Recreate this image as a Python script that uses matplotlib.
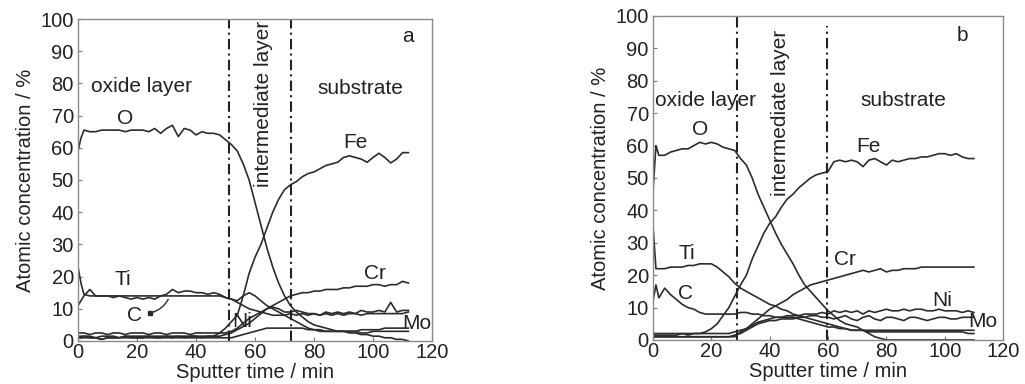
import matplotlib.pyplot as plt
import numpy as np

plt.rcParams['font.family'] = ['Liberation Sans', 'DejaVu Sans']

# Sputterzeit-Raster (min)
t_a = [0, 1] + list(range(2, 114, 2))
t_b = [0, 1] + list(range(2, 112, 2))

# ---------------- Probe a ----------------
O_a = [59, 63,
       65.5, 65, 65, 65.5, 65.5, 65.5, 65.5, 65, 65.5, 65.5,
       65.5, 65, 66, 64.5, 66, 67, 63.5, 66, 65.5, 64,
       65, 64.5, 64.5, 64, 62.5, 61, 59, 55, 50, 43,
       36, 29, 23, 18, 14, 11, 9, 7.5, 6, 5,
       4.5, 4, 3.5, 3, 3, 2.5, 2.5, 2, 2, 1.5,
       1.5, 1, 1, 0.5, 0.5, 0]
Fe_a = [1, 1,
        1.5, 1, 1, 0.5, 1, 1, 1, 1.5, 1, 1,
        1, 1.5, 1, 1, 1.5, 1, 1.5, 1, 1.5, 1.5,
        1, 1.5, 1.5, 2.5, 4, 6, 8, 14, 21, 26,
        30, 35, 40, 44, 47, 48.5, 49.5, 51, 52, 52.5,
        53.5, 54.5, 55, 55.5, 57, 57.5, 57, 56.5, 55.5, 57,
        58.3, 57, 55.3, 56.5, 58.5, 58.5]
Cr_a = [1.5, 1.5,
        1.5, 1.5, 1, 1.5, 1.5, 1.5, 1, 1.5, 1.5, 1.5,
        1.5, 1.5, 1.5, 1.5, 1.5, 1.5, 1.5, 1.5, 1.5, 1.5,
        1.5, 1.5, 1.5, 1.5, 2, 2.5, 3.5, 4.5, 5.5, 7,
        8.5, 10, 11, 12, 13, 14, 14.5, 15, 15, 15.5,
        15.5, 16, 16, 16, 16.5, 16.5, 17, 17, 17, 17.5,
        17.5, 17, 17.5, 17.5, 18.5, 18]
Ti_a = [23, 18,
        14.5, 14, 14, 14, 14, 14, 14, 14, 14, 14,
        14, 14, 14, 14, 14, 14, 14, 14, 14, 14,
        14, 14, 14, 14, 13.5, 13, 12, 11, 10, 9.5,
        9, 8.5, 8, 8, 8, 8.5, 8, 8.5, 8, 8.5,
        8, 8.5, 8, 8.5, 8, 8.5, 8.5, 8, 8.5, 8.5,
        8.5, 8.5, 8.5, 8.5, 8.5, 9]
C_a = [11, 12.5,
       14, 16, 14, 14, 14, 13.5, 14, 13.5, 13, 13.5,
       13, 13.5, 13, 14, 14.5, 16, 15, 15.5, 15.5, 15,
       15, 14.5, 15, 14.5, 13.5, 13, 12.5, 14, 15, 14,
       12.5, 11, 10, 9, 8, 7, 6, 5, 4, 3.5,
       3, 3, 3, 3, 3, 3, 3, 2.5, 2.5, 3,
       3, 3, 3, 3, 3, 3]
Ni_a = [2.5, 2.5,
        2.5, 2, 2.5, 2.5, 2, 2.5, 2.5, 2, 2.5, 2.5,
        2.5, 2, 2.5, 2.5, 2, 2.5, 2.5, 2.5, 2, 2.5,
        2.5, 2.5, 2.5, 2.5, 2.5, 3, 4, 5.5, 7, 8,
        9, 10, 10.5, 10, 9, 9, 9.5, 9, 8.5, 8.5,
        8, 9, 8.5, 9, 8.5, 9, 8.5, 9.5, 9, 9,
        9.5, 9, 12, 9, 9.5, 9.5]
Mo_a = [1, 1,
        1, 1, 1, 0.5, 1, 1, 1, 1, 1, 1,
        1, 1, 1, 1, 1, 1, 1, 1, 1, 1,
        1, 1, 1, 1, 1, 1, 1.5, 2, 2.5, 3,
        3.5, 4, 4, 4, 4, 4, 4, 4, 3.5, 3.5,
        3.5, 3, 3, 3, 3, 3, 3, 3.5, 3.5, 3.5,
        3.5, 4, 4, 4, 4, 4]

# ---------------- Probe b ----------------
O_b = [46, 60,
       57, 57, 58, 58.5, 59, 59, 60, 61, 60.5, 61,
       60.5, 59.5, 59, 58.5, 56, 54, 50, 45, 41, 37,
       33, 29.5, 26.5, 23.5, 20, 17, 15, 13, 11, 9,
       7.5, 6, 5, 4.5, 4, 3, 2, 1, 0.5, 0,
       0, 0, 0, 0, 0, 0, 0, 0, 0, 0,
       0, 0, 0, 0, 0]
Fe_b = [1.5, 1.5,
        1.5, 1.5, 1.5, 1.5, 2, 1.5, 2, 2, 2.5, 3.5,
        5, 7.5, 10, 13.5, 17, 20, 25, 29, 33, 36,
        38, 41, 43.5, 45, 47, 48.5, 50, 51, 51.5, 52,
        55, 55.5, 55, 55.5, 55, 53.5, 55.5, 56, 55, 54,
        55.5, 55, 55.5, 56, 56, 56.5, 56.5, 57, 57.5, 57.5,
        57, 57.5, 56.5, 56, 56]
Cr_b = [1, 1,
        1, 1, 1, 1, 1, 1, 1, 1, 1, 1,
        1, 1, 1, 1, 2.5, 3.5, 5, 6.5, 8, 9.5,
        10.5, 11.5, 12.5, 14, 15, 16, 17, 17.5, 18, 18.5,
        19, 19.5, 20, 20.5, 21, 21.5, 21, 21.5, 22, 21,
        21.5, 21.5, 22, 22, 22, 22.5, 22.5, 22.5, 22.5, 22.5,
        22.5, 22.5, 22.5, 22.5, 22.5]
Ti_b = [35, 22,
        22, 22, 22.5, 22.5, 22.5, 23, 23, 23.5, 23.5, 23.5,
        22.5, 21, 19.5, 17.5, 16, 15, 14, 13, 12, 11,
        10.5, 9.5, 9, 8, 7.5, 7, 6.5, 6, 5.5, 5,
        4.5, 4, 3.5, 3, 3, 3, 3, 3, 3, 3,
        3, 3, 3, 3, 3, 3, 3, 3, 3, 3,
        3, 3, 3, 3, 3]
C_b = [12, 17,
       13, 16, 14, 12.5, 11, 10, 9.5, 8.5, 8, 8,
       8, 8, 8, 8, 8.5, 8.5, 8, 8, 7.5, 7.5,
       7, 7, 7, 7, 6.5, 6, 5.5, 5, 4.5, 4,
       4, 3.5, 3.5, 3, 3, 3, 2.5, 2.5, 2.5, 2.5,
       2.5, 2.5, 2.5, 2.5, 2.5, 2.5, 2.5, 2.5, 2.5, 2.5,
       2.5, 2.5, 2.5, 2, 2]
Ni_b = [2, 2,
        2, 2, 2, 2, 2, 2, 2, 2, 2, 2,
        2, 2, 2, 2.5, 3, 3.5, 4.5, 5.5, 6, 6.5,
        7, 7, 7.5, 7.5, 7.5, 8, 8, 8, 8.5, 8,
        9, 8.5, 9, 8.5, 9, 8, 9, 8.5, 9, 9.5,
        9, 9, 9.5, 9, 9.5, 9.5, 9, 9, 9.5, 9,
        9, 9, 8.5, 9, 8.5]
Mo_b = [1, 1,
        1, 1, 1, 1, 1, 1, 1, 1, 1, 1,
        1, 1, 1, 1.5, 2, 3, 4, 5, 5.5, 6,
        6, 6.5, 6.5, 6.5, 7, 7, 7.5, 7.5, 7, 7,
        6.5, 7, 7.5, 6.5, 6, 7, 7.5, 6.5, 6, 7,
        7, 6.5, 6, 7, 7, 6.5, 6, 6.5, 7, 7,
        6.5, 6.5, 7, 7, 7]

kurven_a = [O_a, Fe_a, Cr_a, Ti_a, C_a, Ni_a, Mo_a]
kurven_b = [O_b, Fe_b, Cr_b, Ti_b, C_b, Ni_b, Mo_b]

grenzen_a = [51.2, 72.1]     # Schichtgrenzen (min)
grenzen_b = [28.7, 59.6]

# Beschriftungen: (Text, x, y)
labels_a = [("O", 16, 69), ("Fe", 94, 61.5), ("Cr", 100.7, 21), ("Ti", 15.3, 19),
            ("C", 19.3, 8), ("Ni", 55.5, 6), ("Mo", 115, 5.5), ("a", 112, 94.5),
            ("substrate", 95.6, 78.5)]
labels_b = [("O", 16, 65), ("Fe", 73.7, 59.6), ("Cr", 65.8, 24.7), ("Ti", 11.6, 26.8),
            ("C", 11, 14.5), ("Ni", 99, 12.3), ("Mo", 113, 5.6), ("b", 106, 94),
            ("substrate", 85.7, 74)]

linienfarbe = '#2c2c2c'
textfarbe = '#222222'

fig = plt.figure(figsize=(10.25, 3.84), dpi=100)
ax_a = fig.add_axes([0.0761, 0.1120, 0.3454, 0.8385])
ax_b = fig.add_axes([0.6371, 0.1146, 0.3415, 0.8438])


def panel(ax, t, kurven, grenzen, labels, oxid_pos, inter_pos, grenz_top):
    for y in kurven:
        ax.plot(t, y, '-', color=linienfarbe, lw=1.2)
    for g, top in zip(grenzen, grenz_top):
        ax.plot([g, g], [0, top], color='#222222', lw=1.5, linestyle=(0, (5, 2, 1, 2)))
    for txt, x, y in labels:
        ax.text(x, y, txt, ha='center', va='center', fontsize=15, color=textfarbe)
    ax.text(oxid_pos[0], oxid_pos[1], "oxide layer", ha='left', va='center',
            fontsize=15, color=textfarbe)
    ax.text(inter_pos[0], inter_pos[1], "intermediate layer", ha='center', va='center',
            rotation=90, fontsize=15, color=textfarbe)

    ax.set_xlim(0, 120)
    ax.set_ylim(0, 100)
    ax.set_xticks(np.arange(0, 121, 20))
    ax.set_yticks(np.arange(0, 101, 10))
    ax.tick_params(direction='in', length=3, width=0.8, color='#777777',
                   labelsize=14.5, labelcolor=textfarbe)
    ax.tick_params(axis='x', pad=1.5)
    ax.tick_params(axis='y', pad=3)
    for s in ax.spines.values():
        s.set_color('#8a8a8a')
        s.set_linewidth(1.0)
    ax.set_xlabel("Sputter time / min", fontsize=14.5, color=textfarbe, labelpad=1)
    ax.set_ylabel("Atomic concentration / %", fontsize=14.5, color=textfarbe, labelpad=4)


panel(ax_a, t_a, kurven_a, grenzen_a, labels_a, (4.5, 79), (62.8, 73.6), [100, 100])
panel(ax_b, t_b, kurven_b, grenzen_b, labels_b, (0.8, 74), (43.8, 70.2), [100, 97])

# Zeiger vom "C" zur Kurve
ax_a.annotate('', xy=(31, 13.7), xytext=(24.4, 8.7),
              arrowprops=dict(arrowstyle='-', color=linienfarbe, lw=1.0,
                              connectionstyle='arc3,rad=0.25'))
ax_a.plot([24.4], [8.7], 's', color=linienfarbe, markersize=2.5)

plt.savefig('out.png', dpi=100)
